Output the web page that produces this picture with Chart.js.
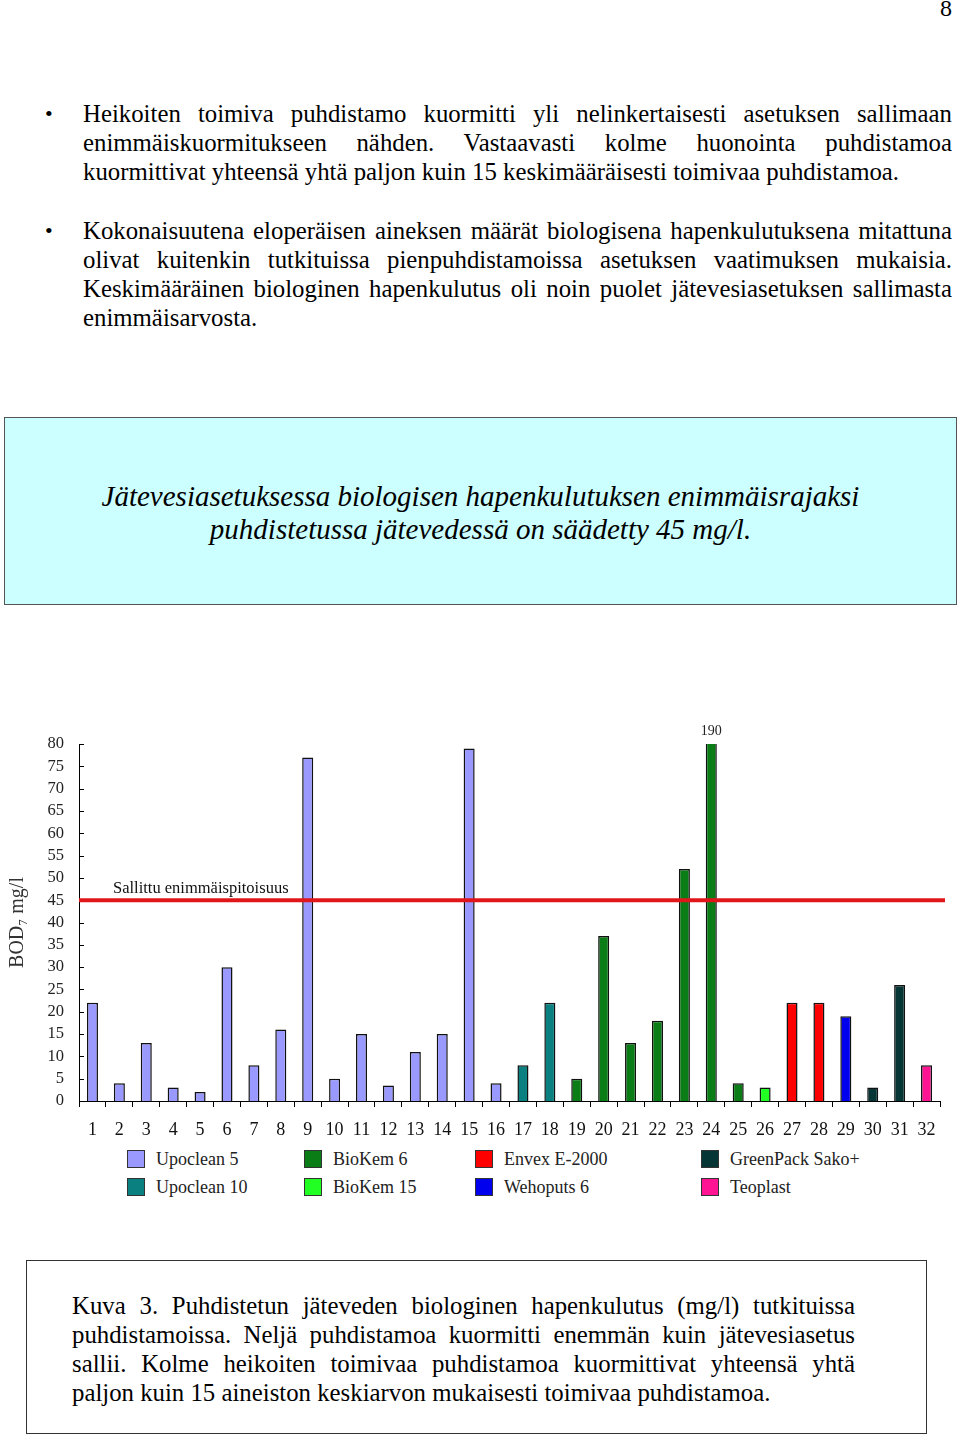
<!DOCTYPE html>
<html>
<head>
<meta charset="utf-8">
<script src="https://cdn.jsdelivr.net/npm/chart.js@4.4.1/dist/chart.umd.min.js"></script>
<style>
  html, body { margin: 0; padding: 0; background: #fff; }
  body { width: 960px; height: 1436px; position: relative; overflow: hidden;
         font-family: "Liberation Serif", "Times New Roman", serif; color: #000; }
  .pn { position: absolute; left: 930px; top: -5px; width: 22px; text-align: right; font-size: 24px; }
  .para { position: absolute; left: 83px; width: 869px; font-size: 24.8px; line-height: 29px; }
  .para div { white-space: nowrap; }
  .para .j { text-align: justify; text-align-last: justify; white-space: normal; }
  .bullet { position: absolute; left: 45px; font-size: 22px; line-height: 29px; }
  .cyan { position: absolute; left: 4px; top: 417px; width: 951px; height: 186px;
          background: #ccffff; border: 1px solid #555; }
  .cyan .t { position: absolute; left: 0; width: 100%; top: 62px; text-align: center;
             font-style: italic; font-size: 29px; line-height: 33px; }
  .cap { position: absolute; left: 26px; top: 1260px; width: 899px; height: 172px;
         border: 1px solid #333; }
  .cap .para { left: 45px; top: 30px; width: 783px; }
  #wrap { position: absolute; left: 0; top: 700px; width: 960px; height: 440px; }
  #legend { position: absolute; left: 127px; top: 1145px; display: grid;
            grid-template-columns: 177px 171px 226px 200px; grid-template-rows: 28px 28px;
            grid-auto-flow: column; font-size: 18px; color: #222; }
  #legend .it { display: flex; align-items: center; height: 28px; }
  #legend .sw { width: 18px; height: 18px; border: 1.5px solid #333; margin-right: 11px; box-sizing: border-box; }
</style>
</head>
<body>
<div class="pn">8</div>

<div class="bullet" style="top:99px">•</div>
<div class="para" style="top:99px">
  <div class="j">Heikoiten toimiva puhdistamo kuormitti yli nelinkertaisesti asetuksen sallimaan</div>
  <div class="j">enimmäiskuormitukseen nähden. Vastaavasti kolme huonointa puhdistamoa</div>
  <div>kuormittivat yhteensä yhtä paljon kuin 15 keskimääräisesti toimivaa puhdistamoa.</div>
</div>

<div class="bullet" style="top:216px">•</div>
<div class="para" style="top:216px">
  <div class="j">Kokonaisuutena eloperäisen aineksen määrät biologisena hapenkulutuksena mitattuna</div>
  <div class="j">olivat kuitenkin tutkituissa pienpuhdistamoissa asetuksen vaatimuksen mukaisia.</div>
  <div class="j">Keskimääräinen biologinen hapenkulutus oli noin puolet jätevesiasetuksen sallimasta</div>
  <div>enimmäisarvosta.</div>
</div>

<div class="cyan">
  <div class="t">Jätevesiasetuksessa biologisen hapenkulutuksen enimmäisrajaksi<br>puhdistetussa jätevedessä on säädetty 45 mg/l.</div>
</div>

<div id="wrap"><canvas id="c" width="960" height="440"></canvas></div>
<div id="legend"></div>

<div class="cap">
  <div class="para">
    <div class="j">Kuva 3. Puhdistetun jäteveden biologinen hapenkulutus (mg/l) tutkituissa</div>
    <div class="j">puhdistamoissa. Neljä puhdistamoa kuormitti enemmän kuin jätevesiasetus</div>
    <div class="j">sallii. Kolme heikoiten toimivaa puhdistamoa kuormittivat yhteensä yhtä</div>
    <div>paljon kuin 15 aineiston keskiarvon mukaisesti toimivaa puhdistamoa.</div>
  </div>
</div>

<script>
// ---- data ----
const categories = ['1','2','3','4','5','6','7','8','9','10','11','12','13','14','15','16',
                    '17','18','19','20','21','22','23','24','25','26','27','28','29','30','31','32'];
const bodValues = [22, 4, 13, 3, 2, 30, 8, 16, 77, 5, 15, 3.5, 11, 15, 79, 4,
                   8, 22, 5, 37, 13, 18, 52, 190, 4, 3, 22, 22, 19, 3, 26, 8];
const productOfBar = [0,0,0,0,0,0,0,0,0,0,0,0,0,0,0,0,
                      1,1,2,2,2,2,2,2,2,3,4,4,5,6,6,7];
const products = ['Upoclean 5','Upoclean 10','BioKem 6','BioKem 15','Envex E-2000','Wehoputs 6','GreenPack Sako+','Teoplast'];
const productColors = ['#9999ff','#0a8080','#0a7d17','#22ff22','#ff0000','#0000ee','#053535','#ff1493'];
const yTickMax = 80;
const yTickStep = 5;
const limitValue = 45;
const limitLabel = 'Sallittu enimmäispitoisuus';
const yTitle = 'BOD\u2087 mg/l';

// ---- legend (HTML) ----
const lg = document.getElementById('legend');
products.forEach((p, i) => {
  const d = document.createElement('div'); d.className = 'it';
  d.innerHTML = '<span class="sw" style="background:' + productColors[i] + '"></span>' + p;
  lg.appendChild(d);
});

const serif = '"Liberation Serif", "Times New Roman", serif';

const overlay = {
  id: 'overlay',
  afterDatasetsDraw(chart) {
    const { ctx, chartArea, scales: { x, y } } = chart;
    ctx.save();
    // inward y ticks
    ctx.strokeStyle = '#000'; ctx.lineWidth = 1;
    for (let v = 0; v <= yTickMax; v += yTickStep) {
      const py = Math.round(y.getPixelForValue(v)) + 0.5;
      ctx.beginPath(); ctx.moveTo(chartArea.left, py); ctx.lineTo(chartArea.left + 5, py); ctx.stroke();
    }
    // limit line
    const ly = y.getPixelForValue(limitValue);
    ctx.strokeStyle = '#e0161b'; ctx.lineWidth = 4;
    ctx.beginPath(); ctx.moveTo(chartArea.left, ly); ctx.lineTo(chartArea.right + 5, ly); ctx.stroke();
    ctx.fillStyle = '#111'; ctx.font = '16.5px ' + serif;
    ctx.textAlign = 'left'; ctx.textBaseline = 'alphabetic';
    ctx.fillText(limitLabel, chartArea.left + 34, ly - 7);
    // values beyond axis
    const meta = chart.getDatasetMeta(0);
    bodValues.forEach((v, i) => {
      if (v > yTickMax) {
        const bx = meta.data[i].x;
        ctx.font = '14px ' + serif; ctx.textAlign = 'center'; ctx.textBaseline = 'middle';
        ctx.fillStyle = '#222';
        ctx.fillText(String(v), bx, chartArea.top - 13);
      }
    });
    ctx.restore();
  }
};

new Chart(document.getElementById('c'), {
  type: 'bar',
  data: {
    labels: categories,
    datasets: [{
      data: bodValues,
      backgroundColor: productOfBar.map(k => productColors[k]),
      borderColor: '#111',
      borderWidth: 1.5,
      barPercentage: 0.41,
      categoryPercentage: 1.0
    }]
  },
  options: {
    responsive: false,
    devicePixelRatio: 1,
    animation: false,
    layout: { padding: { top: 44, left: 0, right: 20, bottom: 0 } },
    plugins: { legend: { display: false }, tooltip: { enabled: false } },
    scales: {
      x: {
        grid: { display: true, drawOnChartArea: false, drawTicks: true, tickLength: 6, color: '#000', offset: true },
        border: { display: true, color: '#000', width: 1 },
        ticks: { color: '#111', font: { family: serif, size: 18 }, padding: 12, maxRotation: 0, autoSkip: false },
        afterFit(s) { s.height = 39; }
      },
      y: {
        min: 0, max: yTickMax,
        grid: { display: false, drawTicks: false },
        border: { display: true, color: '#000', width: 1 },
        ticks: { stepSize: yTickStep, autoSkip: false, color: '#222', font: { family: serif, size: 16.5 }, padding: 15 },
        title: { display: true, text: yTitle, color: '#333', font: { family: serif, size: 20 }, padding: 6 },
        afterFit(s) { s.width = 79; }
      }
    }
  },
  plugins: [overlay]
});
</script>
</body>
</html>
